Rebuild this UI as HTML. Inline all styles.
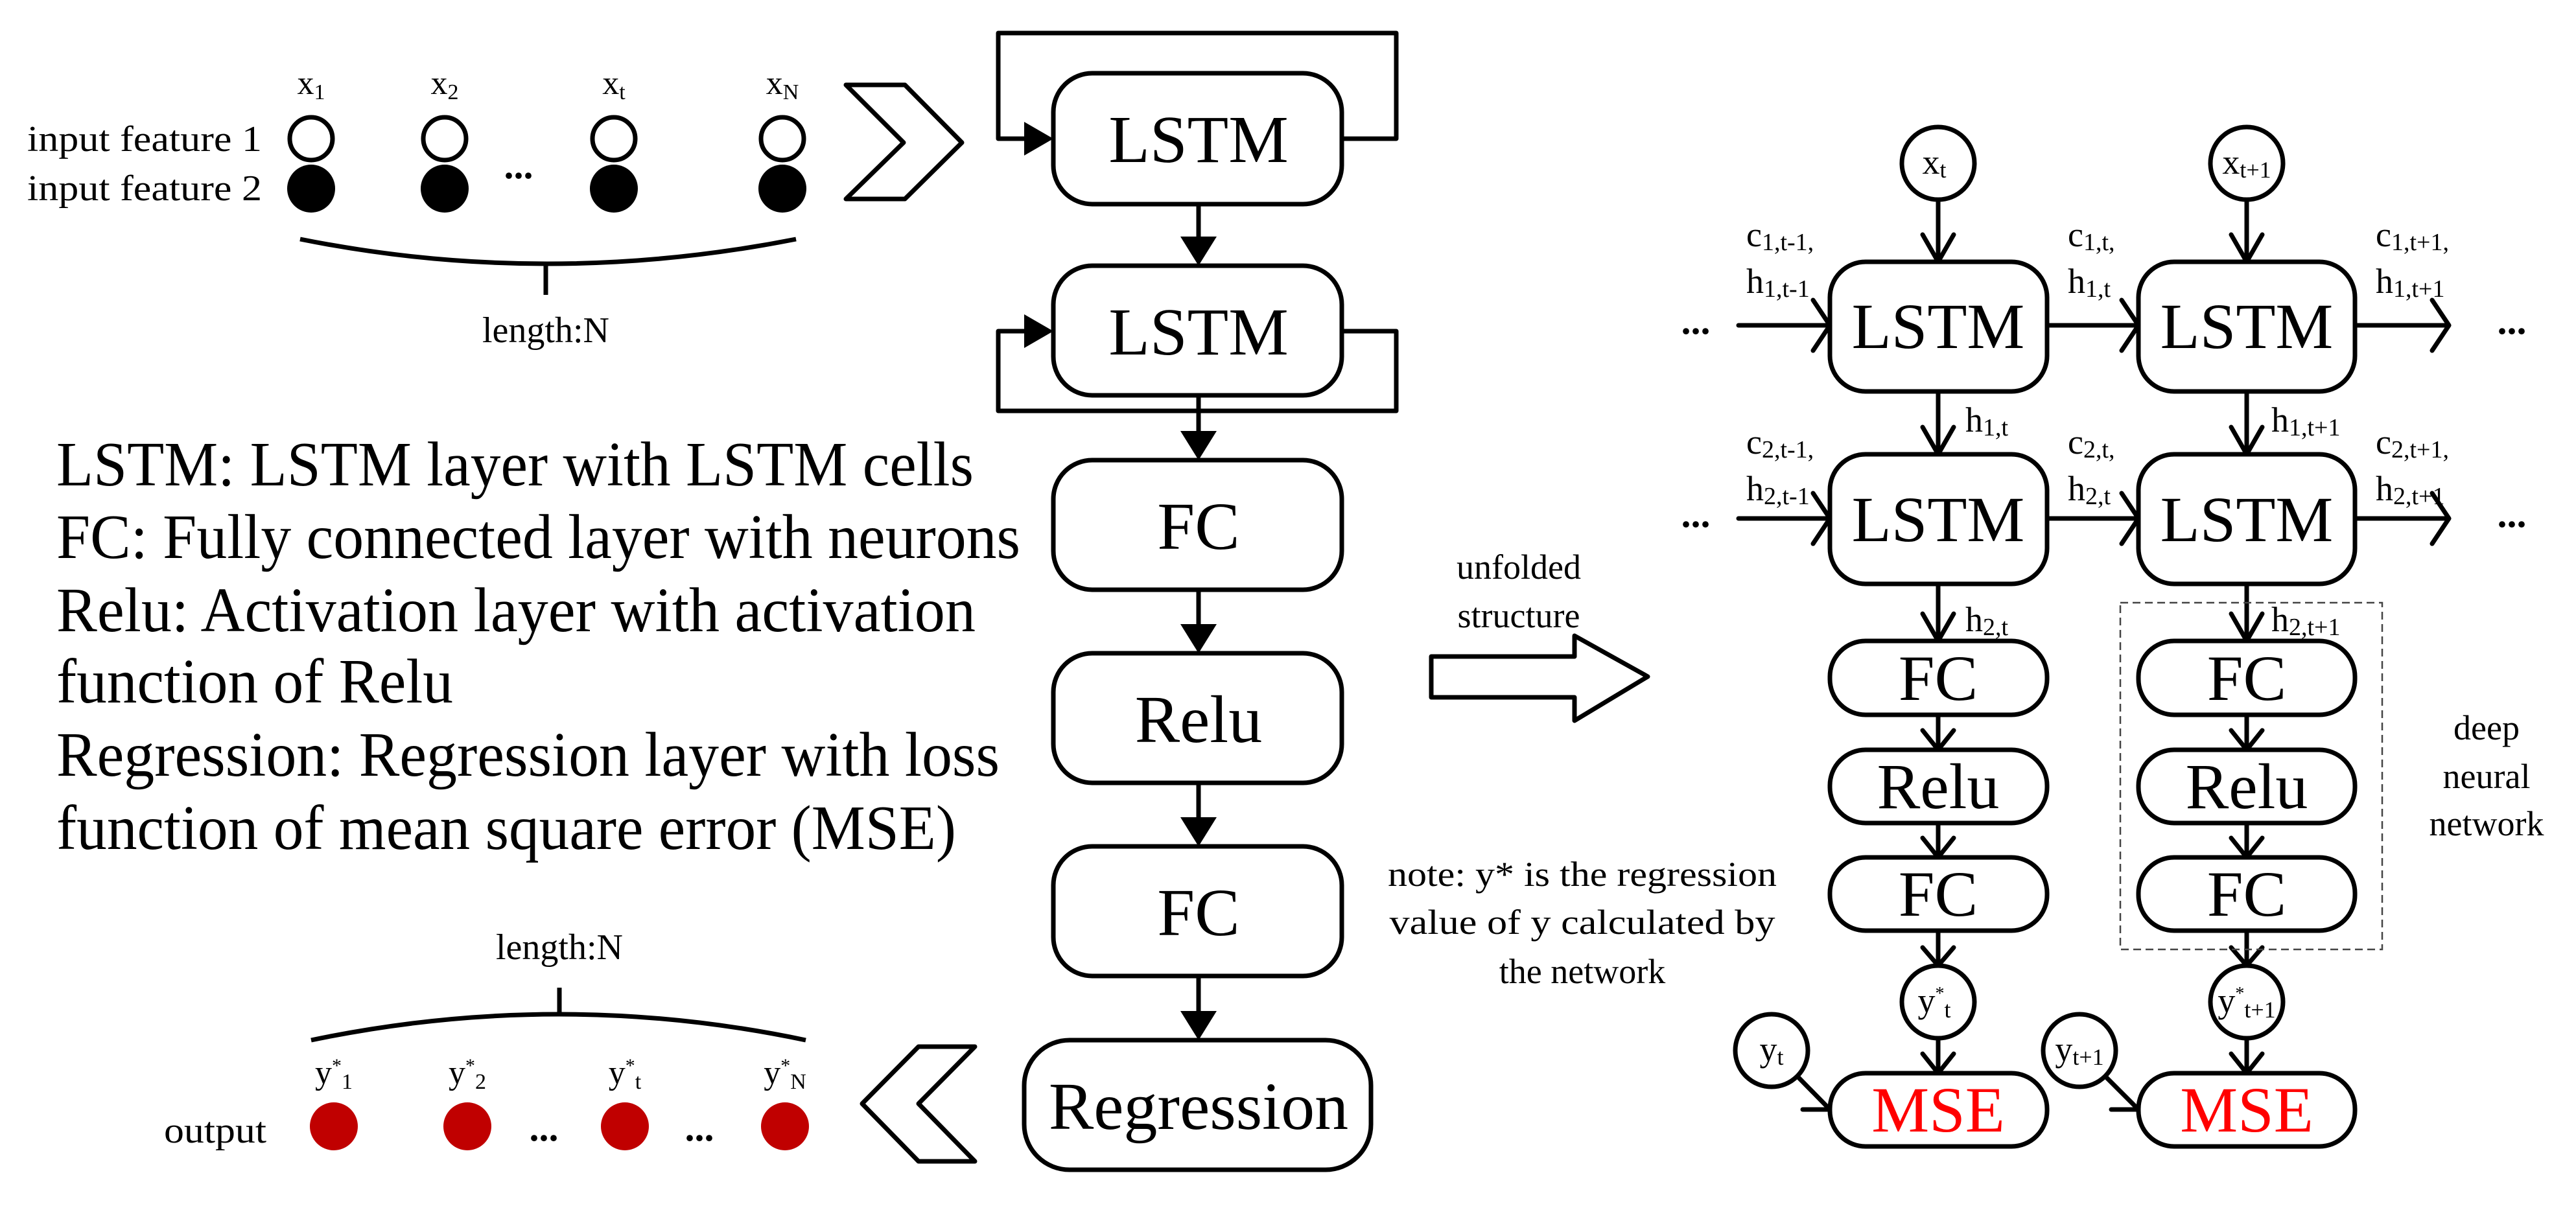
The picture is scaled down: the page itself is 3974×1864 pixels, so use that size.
<!DOCTYPE html>
<html><head><meta charset="utf-8"><style>
html,body{margin:0;padding:0;background:#fff;}
svg{display:block;}
text{font-family:"Liberation Serif",serif;fill:#000;}
</style></head><body>
<svg width="3974" height="1864" viewBox="0 0 3974 1864" xmlns="http://www.w3.org/2000/svg">
<g stroke="#000" stroke-width="7" fill="none" stroke-linejoin="round">
<rect x="1625" y="113" width="445" height="202" rx="60"/>
<rect x="1625" y="410" width="445" height="200" rx="60"/>
<rect x="1625" y="710" width="445" height="200" rx="60"/>
<rect x="1625" y="1008" width="445" height="200" rx="60"/>
<rect x="1625" y="1306" width="445" height="200" rx="60"/>
<rect x="1580" y="1605" width="535" height="200" rx="70"/>
<polyline points="2070,214 2154,214 2154,51 1540,51 1540,214 1580,214"/>
<polyline points="2070,511 2154,511 2154,634 1540,634 1540,511 1580,511"/>
<line x1="1849" y1="315" x2="1849" y2="370"/>
<line x1="1849" y1="610" x2="1849" y2="670"/>
<line x1="1849" y1="910" x2="1849" y2="968"/>
<line x1="1849" y1="1208" x2="1849" y2="1266"/>
<line x1="1849" y1="1506" x2="1849" y2="1565"/>
<polygon points="1305,131 1396,131 1484,220 1396,307 1305,307 1394,220"/>
<polygon points="1504,1615 1417,1615 1330,1703 1417,1792 1504,1792 1417,1703"/>
<path d="M463,369 Q842,445 1228,369"/>
<line x1="842" y1="408" x2="842" y2="455"/>
<path d="M480,1605 Q863,1525 1243,1605"/>
<line x1="863" y1="1566" x2="863" y2="1524"/>
<circle cx="480" cy="214" r="33"/><circle cx="686" cy="214" r="33"/><circle cx="947" cy="214" r="33"/><circle cx="1207" cy="214" r="33"/>
</g>
<g fill="#000" stroke="none">
<polygon points="1580,188 1625,214 1580,240"/>
<polygon points="1580,485 1625,511 1580,537"/>
<polygon points="1821,365 1877,365 1849,410"/>
<polygon points="1821,665 1877,665 1849,710"/>
<polygon points="1821,963 1877,963 1849,1008"/>
<polygon points="1821,1261 1877,1261 1849,1306"/>
<polygon points="1821,1560 1877,1560 1849,1605"/>
<circle cx="480" cy="291" r="37"/><circle cx="686" cy="291" r="37"/><circle cx="947" cy="291" r="37"/><circle cx="1207" cy="291" r="37"/>
</g>
<g fill="#c00000" stroke="none">
<circle cx="515" cy="1738" r="37"/><circle cx="721" cy="1738" r="37"/><circle cx="964" cy="1738" r="37"/><circle cx="1211" cy="1738" r="37"/>
</g>
<g font-size="104" text-anchor="middle">
<text x="1849" y="250">LSTM</text>
<text x="1849" y="547">LSTM</text>
<text x="1849" y="847">FC</text>
<text x="1849" y="1145">Relu</text>
<text x="1849" y="1443">FC</text>
<text x="1849" y="1742">Regression</text>
</g>
<g font-size="56">
<text x="42" y="233" textLength="362" lengthAdjust="spacingAndGlyphs">input feature 1</text>
<text x="42" y="309" textLength="362" lengthAdjust="spacingAndGlyphs">input feature 2</text>
<text x="253" y="1763" textLength="158" lengthAdjust="spacingAndGlyphs">output</text>
<text x="842" y="528" text-anchor="middle">length:N</text>
<text x="863" y="1480" text-anchor="middle">length:N</text>
</g>
<g font-size="52" text-anchor="middle">
<text x="480" y="145">x<tspan font-size="34" dy="8">1</tspan></text>
<text x="686" y="145">x<tspan font-size="34" dy="8">2</tspan></text>
<text x="947" y="145">x<tspan font-size="34" dy="8">t</tspan></text>
<text x="1207" y="145">x<tspan font-size="34" dy="8">N</tspan></text>
<text x="515" y="1672">y<tspan font-size="30" dy="-18">*</tspan><tspan font-size="34" dy="26">1</tspan></text>
<text x="721" y="1672">y<tspan font-size="30" dy="-18">*</tspan><tspan font-size="34" dy="26">2</tspan></text>
<text x="964" y="1672">y<tspan font-size="30" dy="-18">*</tspan><tspan font-size="34" dy="26">t</tspan></text>
<text x="1211" y="1672">y<tspan font-size="30" dy="-18">*</tspan><tspan font-size="34" dy="26">N</tspan></text>
</g>
<g font-size="60" font-weight="bold" text-anchor="middle">
<text x="800" y="275">...</text>
<text x="839" y="1760">...</text>
<text x="1079" y="1760">...</text>
</g>
<g font-size="98">
<text x="87" y="749" textLength="1415" lengthAdjust="spacingAndGlyphs">LSTM: LSTM layer with LSTM cells</text>
<text x="87" y="861" textLength="1487" lengthAdjust="spacingAndGlyphs">FC: Fully connected layer with neurons</text>
<text x="87" y="974" textLength="1418" lengthAdjust="spacingAndGlyphs">Relu: Activation layer with activation</text>
<text x="87" y="1084" textLength="612" lengthAdjust="spacingAndGlyphs">function of Relu</text>
<text x="87" y="1197" textLength="1455" lengthAdjust="spacingAndGlyphs">Regression: Regression layer with loss</text>
<text x="87" y="1310" textLength="1388" lengthAdjust="spacingAndGlyphs">function of mean square error (MSE)</text>
</g>

<g stroke="#000" stroke-width="7" fill="none" stroke-linejoin="round" stroke-linecap="round">
<circle cx="2990" cy="252" r="56"/><circle cx="3466" cy="252" r="56"/>
<rect x="2823" y="404" width="335" height="200" rx="55"/>
<rect x="3299" y="404" width="334" height="200" rx="55"/>
<rect x="2823" y="701" width="335" height="200" rx="55"/>
<rect x="3299" y="701" width="334" height="200" rx="55"/>
<rect x="2823" y="989" width="335" height="114" rx="55"/>
<rect x="3299" y="989" width="334" height="114" rx="55"/>
<rect x="2823" y="1157" width="335" height="113" rx="55"/>
<rect x="3299" y="1157" width="334" height="113" rx="55"/>
<rect x="2823" y="1323" width="335" height="113" rx="55"/>
<rect x="3299" y="1323" width="334" height="113" rx="55"/>
<rect x="2823" y="1656" width="335" height="113" rx="55"/>
<rect x="3299" y="1656" width="334" height="113" rx="55"/>
<circle cx="2990" cy="1546" r="56"/><circle cx="3466" cy="1546" r="56"/>
<circle cx="2733" cy="1621" r="56"/><circle cx="3208" cy="1621" r="56"/>
<path d="M2990,308 V404 M2966,362 L2990,404 L3014,362"/>
<path d="M3466,308 V404 M3442,362 L3466,404 L3490,362"/>
<path d="M2990,604 V701 M2966,659 L2990,701 L3014,659"/>
<path d="M3466,604 V701 M3442,659 L3466,701 L3490,659"/>
<path d="M2990,901 V989 M2966,947 L2990,989 L3014,947"/>
<path d="M3466,901 V989 M3442,947 L3466,989 L3490,947"/>
<path d="M2990,1103 V1157 M2966,1127 L2990,1157 L3014,1127"/>
<path d="M3466,1103 V1157 M3442,1127 L3466,1157 L3490,1127"/>
<path d="M2990,1270 V1323 M2966,1293 L2990,1323 L3014,1293"/>
<path d="M3466,1270 V1323 M3442,1293 L3466,1323 L3490,1293"/>
<path d="M2990,1436 V1490 M2966,1462 L2990,1490 L3014,1462"/>
<path d="M3466,1436 V1490 M3442,1462 L3466,1490 L3490,1462"/>
<path d="M2990,1602 V1656 M2966,1626 L2990,1656 L3014,1626"/>
<path d="M3466,1602 V1656 M3442,1626 L3466,1656 L3490,1626"/>
<path d="M2682,502 H2823 M2797,463 L2823,502 L2797,541"/>
<path d="M3158,502 H3299 M3273,463 L3299,502 L3273,541"/>
<path d="M3633,502 H3778 M3752,463 L3778,502 L3752,541"/>
<path d="M2682,800 H2823 M2797,761 L2823,800 L2797,839"/>
<path d="M3158,800 H3299 M3273,761 L3299,800 L3273,839"/>
<path d="M3633,800 H3778 M3752,761 L3778,800 L3752,839"/>
<path d="M2773,1661 L2823,1712 M2781,1712 H2823"/>
<path d="M3248,1661 L3299,1712 M3257,1712 H3299"/>
<polygon points="2208,1013 2429,1013 2429,981 2542,1044 2429,1112 2429,1076 2208,1076"/>
</g>
<rect x="3271" y="930" width="404" height="535" fill="none" stroke="#444" stroke-width="2.5" stroke-dasharray="12,7"/>
<g font-size="100" text-anchor="middle">
<text x="2990" y="537">LSTM</text><text x="3466" y="537">LSTM</text>
<text x="2990" y="835">LSTM</text><text x="3466" y="835">LSTM</text>
<text x="2990" y="1080">FC</text><text x="3466" y="1080">FC</text>
<text x="2990" y="1247">Relu</text><text x="3466" y="1247">Relu</text>
<text x="2990" y="1413">FC</text><text x="3466" y="1413">FC</text>
<text x="2990" y="1746" style="fill:#ff0000">MSE</text><text x="3466" y="1746" style="fill:#ff0000">MSE</text>
</g>
<g font-size="54" text-anchor="middle">
<text x="2984" y="268">x<tspan font-size="36" dy="6">t</tspan></text>
<text x="3466" y="268">x<tspan font-size="36" dy="6">t+1</tspan></text>
<text x="2984" y="1562">y<tspan font-size="28" dy="-20">*</tspan><tspan font-size="36" dy="28">t</tspan></text>
<text x="3466" y="1562">y<tspan font-size="28" dy="-20">*</tspan><tspan font-size="36" dy="28">t+1</tspan></text>
<text x="2733" y="1637">y<tspan font-size="36" dy="6">t</tspan></text>
<text x="3208" y="1637">y<tspan font-size="36" dy="6">t+1</tspan></text>
</g>
<g font-size="54">
<text x="2694" y="380">c<tspan font-size="38" dy="6">1,t-1,</tspan></text>
<text x="2694" y="452">h<tspan font-size="38" dy="6">1,t-1</tspan></text>
<text x="3190" y="380">c<tspan font-size="38" dy="6">1,t,</tspan></text>
<text x="3190" y="452">h<tspan font-size="38" dy="6">1,t</tspan></text>
<text x="3665" y="380">c<tspan font-size="38" dy="6">1,t+1,</tspan></text>
<text x="3665" y="452">h<tspan font-size="38" dy="6">1,t+1</tspan></text>
<text x="3032" y="666">h<tspan font-size="38" dy="6">1,t</tspan></text>
<text x="3504" y="666">h<tspan font-size="38" dy="6">1,t+1</tspan></text>
<text x="2694" y="700">c<tspan font-size="38" dy="6">2,t-1,</tspan></text>
<text x="2694" y="772">h<tspan font-size="38" dy="6">2,t-1</tspan></text>
<text x="3190" y="700">c<tspan font-size="38" dy="6">2,t,</tspan></text>
<text x="3190" y="772">h<tspan font-size="38" dy="6">2,t</tspan></text>
<text x="3665" y="700">c<tspan font-size="38" dy="6">2,t+1,</tspan></text>
<text x="3665" y="772">h<tspan font-size="38" dy="6">2,t+1</tspan></text>
<text x="3032" y="974">h<tspan font-size="38" dy="6">2,t</tspan></text>
<text x="3504" y="974">h<tspan font-size="38" dy="6">2,t+1</tspan></text>
</g>
<g font-size="60" font-weight="bold" text-anchor="middle">
<text x="2616" y="515">...</text><text x="3875" y="515">...</text>
<text x="2616" y="813">...</text><text x="3875" y="813">...</text>
</g>
<g font-size="54" text-anchor="middle">
<text x="2343" y="893">unfolded</text>
<text x="2343" y="968">structure</text>
<text x="3836" y="1141">deep</text>
<text x="3836" y="1216">neural</text>
<text x="3836" y="1289">network</text>
<text x="2441" y="1367" textLength="600" lengthAdjust="spacingAndGlyphs">note: y* is the regression</text>
<text x="2441" y="1441" textLength="595" lengthAdjust="spacingAndGlyphs">value of y calculated by</text>
<text x="2441" y="1517">the network</text>
</g>
</svg>
</body></html>
